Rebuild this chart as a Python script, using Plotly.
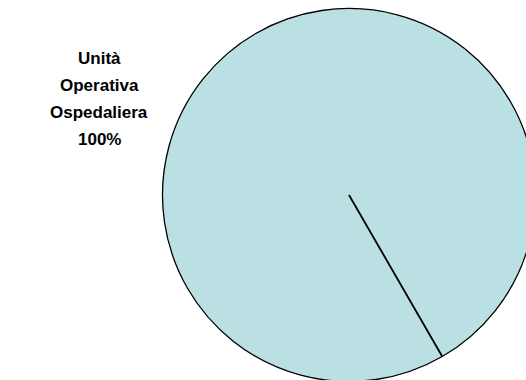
import math
import plotly.graph_objects as go

# Data
labels = ["Unità Operativa Ospedaliera"]
values = [100]

# Styling
fill_color = "#BBE0E3"
start_angle = 150  # degrees clockwise from 12 o'clock

# Canvas (slightly larger than the visible window so the pie can bleed off the right edge)
W, H = 560, 400
cx_px, cy_px, r_px = 349, 195, 186.5

dom_x = [(cx_px - r_px) / W, (cx_px + r_px) / W]
dom_y = [(H - (cy_px + r_px)) / H, (H - (cy_px - r_px)) / H]

fig = go.Figure(
    go.Pie(
        labels=labels,
        values=values,
        sort=False,
        direction="clockwise",
        rotation=start_angle,
        textinfo="none",
        hoverinfo="label+percent",
        marker=dict(colors=[fill_color], line=dict(color="black", width=1.3)),
        domain=dict(x=dom_x, y=dom_y),
        showlegend=False,
    )
)

# Slice boundary line from the centre to the rim at the start angle
xc = (dom_x[0] + dom_x[1]) / 2
yc = (dom_y[0] + dom_y[1]) / 2
theta = math.radians(start_angle)
fig.add_shape(
    type="line",
    xref="paper", yref="paper",
    x0=xc, y0=yc,
    x1=xc + r_px * math.sin(theta) / W,
    y1=yc + r_px * math.cos(theta) / H,
    line=dict(color="black", width=1.8),
)

# Category label with its share, one line per word, widely spaced
total = sum(values)
label_lines = labels[0].split(" ") + [f"{values[0] / total * 100:.0f}%"]
label_x_px, first_line_px, line_step_px = 99, 58, 27.2
for k, line in enumerate(label_lines):
    fig.add_annotation(
        x=label_x_px / W, y=(H - (first_line_px + k * line_step_px)) / H,
        xref="paper", yref="paper",
        text=line,
        showarrow=False,
        xanchor="center", yanchor="middle",
        font=dict(family="Arial, Liberation Sans, sans-serif", size=17,
                  color="black", weight="bold"),
    )

fig.update_layout(
    width=W, height=H,
    margin=dict(l=0, r=0, t=0, b=0),
    paper_bgcolor="white",
    plot_bgcolor="white",
)

fig.write_html(
    "out.html",
    post_script="document.body.style.overflow='hidden';document.documentElement.style.overflow='hidden';",
)
